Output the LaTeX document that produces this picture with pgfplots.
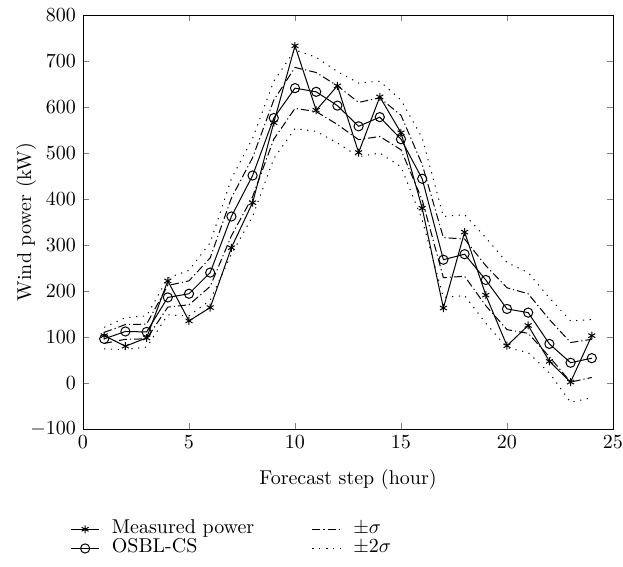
\documentclass[border=0pt]{standalone}
\usepackage{pgfplots}
\usepackage{pgfplotstable}
\pgfplotsset{compat=1.18}

% step, measured, forecast, +sigma, -sigma, +2sigma, -2sigma
\pgfplotstableread{
x   meas  fc   up1  lo1  up2  lo2
1   103   96   110  86   121  74
2   80    112  127  95   142  73
3   98    111  128  96   146  78
4   222   186  212  165  228  148
5   135   194  222  170  245  146
6   164   240  272  210  305  180
7   294   362  402  320  444  280
8   392   451  490  405  532  362
9   566   576  615  530  656  488
10  733   641  686  597  724  553
11  593   633  675  590  708  547
12  646   603  646  562  677  522
13  501   558  610  529  652  492
14  622   578  620  536  656  500
15  544   530  582  507  615  470
16  380   444  475  398  533  355
17  163   268  316  229  362  186
18  328   280  313  232  366  190
19  191   224  255  168  316  130
20  81    161  207  116  262  77
21  125   153  194  108  240  66
22  47    85   138  57   185  22
23  2     44   88   2    135  -42
24  103   54   95   12   138  -32
}\windtab

\begin{document}
\begin{tikzpicture}
\begin{axis}[
  name=ax,
  scale only axis,
  width=265pt, height=207pt,
  xmin=0, xmax=25, ymin=-100, ymax=800,
  xtick={0,5,...,25},
  ytick={-100,0,...,800},
  tick align=inside,
  major tick length=3pt,
  xlabel={Forecast step (hour)},
  ylabel={Wind power (kW)},
  xlabel style={at={(axis description cs:0.5,-0.122)}, anchor=center},
  ylabel style={at={(axis description cs:-0.1075,0.5)}, anchor=center},
  every axis plot/.append style={black, line width=0.5pt},
  legend columns=2,
  legend cell align=left,
  legend style={draw=none, fill=none, inner sep=0pt,
    at={(-0.0245,-0.221)}, anchor=north west,
    row sep=1.2pt,
    nodes={inner xsep=6pt, inner ysep=0pt, text height=6.4pt, text depth=2pt, text width=90pt},
    /tikz/every even column/.append style={column sep=4pt}},
  legend image code/.code={
    \draw[mark repeat=2,mark phase=2] plot coordinates {(0cm,0cm) (0.25cm,0cm) (0.5cm,0cm)};},
]
\addplot[mark=asterisk, mark size=2pt] table[x=x,y=meas] {\windtab};
\addlegendentry{Measured power}
\addplot[dash pattern=on 4pt off 1.5pt on 0.6pt off 1.5pt] table[x=x,y=up1] {\windtab};
\addlegendentry{$\pm\sigma$}
\addplot[mark=o, mark size=2.3pt] table[x=x,y=fc] {\windtab};
\addlegendentry{OSBL-CS}
\addplot[dash pattern=on 0.6pt off 2.8pt] table[x=x,y=up2] {\windtab};
\addlegendentry{$\pm2\sigma$}
\addplot[forget plot, dash pattern=on 4pt off 1.5pt on 0.6pt off 1.5pt] table[x=x,y=lo1] {\windtab};
\addplot[forget plot, dash pattern=on 0.6pt off 2.8pt] table[x=x,y=lo2] {\windtab};
\end{axis}
\pgfresetboundingbox
\path[use as bounding box] (ax.south west) ++(-41.5pt,-69pt) rectangle ([xshift=5pt,yshift=7.5pt]ax.north east);
\end{tikzpicture}
\end{document}
